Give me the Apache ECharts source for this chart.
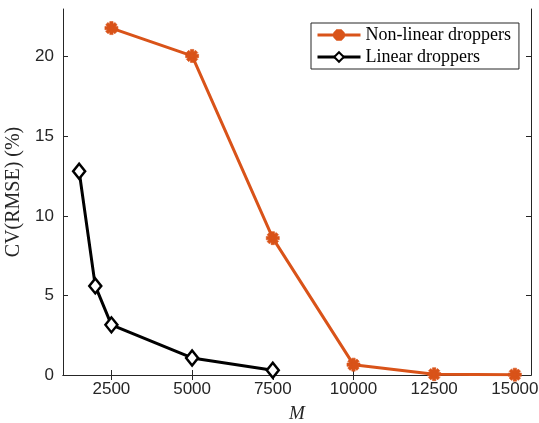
<!DOCTYPE html>
<html>
<head>
<meta charset="utf-8">
<script src="https://cdn.jsdelivr.net/npm/echarts@6/dist/echarts.min.js"></script>
<style>
  html, body { margin: 0; padding: 0; background: #fff; }
  #chart { width: 539px; height: 423px; }
</style>
</head>
<body>
<div id="chart"></div>
<script>
// data
var nonLinearM = [2500, 5000, 7500, 10000, 12500, 15000];
var nonLinearCV = [21.8, 20.05, 8.6, 0.65, 0.05, 0.02];
var linearM = [1500, 2000, 2500, 5000, 7500];
var linearCV = [12.8, 5.6, 3.15, 1.07, 0.3];
var xTicks = [2500, 5000, 7500, 10000, 12500, 15000];
var yTicks = [0, 5, 10, 15, 20];

var axisColor = '#262626';
var orange = '#D95319';

// asterisk marker, built from four bars
var asterisk = 'path://M-1.3,-5L1.3,-5L1.3,5L-1.3,5Z' +
  'M-5,-1.3L5,-1.3L5,1.3L-5,1.3Z' +
  'M-2.6,-4.4L4.4,2.6L2.6,4.4L-4.4,-2.6Z' +
  'M2.6,-4.4L4.4,-2.6L-2.6,4.4L-4.4,2.6Z';

function pairs(xs, ys) {
  return xs.map(function (x, i) { return [x, ys[i]]; });
}

var chart = echarts.init(document.getElementById('chart'));

var tickFont = {
  fontFamily: 'Liberation Sans', fontSize: 17, color: axisColor,
  formatter: function (v) { return String(v); }
};

var option = {
  animation: false,
  grid: {left: 63, right: 8, top: 9, bottom: 48, containLabel: false, outerBoundsMode: 'none'},
  legend: {
    orient: 'vertical',
    left: 311,
    top: 23,
    padding: [3, 8, 3, 5],
    itemWidth: 43,
    itemHeight: 12,
    itemGap: 4,
    backgroundColor: '#fff',
    borderColor: axisColor,
    borderWidth: 1,
    lineStyle: {width: 3},
    textStyle: {fontFamily: 'Liberation Serif', fontSize: 18, color: '#000', lineHeight: 18},
    data: ['Non-linear droppers', 'Linear droppers']
  },
  xAxis: [
    {
      type: 'value', min: 1000, max: 15500,
      name: 'M', nameLocation: 'middle', nameGap: 29,
      nameTextStyle: {fontFamily: 'Liberation Serif', fontStyle: 'italic', fontSize: 19, color: axisColor},
      axisLine: {lineStyle: {color: axisColor}},
      axisTick: {inside: true, length: 5, customValues: xTicks, lineStyle: {color: axisColor}},
      axisLabel: Object.assign({margin: 6, customValues: xTicks}, tickFont),
      splitLine: {show: false}
    },
    {
      type: 'value', position: 'top', min: 1000, max: 15500,
      axisLine: {lineStyle: {color: axisColor}},
      axisTick: {inside: true, length: 5, customValues: xTicks, lineStyle: {color: axisColor}},
      axisLabel: {show: false},
      splitLine: {show: false}
    }
  ],
  yAxis: [
    {
      type: 'value', min: 0, max: 23,
      name: 'CV(RMSE) (%)', nameLocation: 'middle', nameGap: 31,
      nameTextStyle: {fontFamily: 'Liberation Serif', fontSize: 20, color: axisColor},
      axisLine: {show: true, lineStyle: {color: axisColor}},
      axisTick: {show: true, inside: true, length: 5, customValues: yTicks, lineStyle: {color: axisColor}},
      axisLabel: Object.assign({margin: 9, customValues: yTicks}, tickFont),
      splitLine: {show: false}
    },
    {
      type: 'value', position: 'right', min: 0, max: 23,
      axisLine: {show: true, lineStyle: {color: axisColor}},
      axisTick: {show: true, inside: true, length: 5, customValues: yTicks, lineStyle: {color: axisColor}},
      axisLabel: {show: false},
      splitLine: {show: false}
    }
  ],
  series: [
    {
      name: 'Non-linear droppers',
      type: 'line',
      data: pairs(nonLinearM, nonLinearCV),
      symbol: asterisk,
      symbolSize: 13,
      lineStyle: {color: orange, width: 3},
      itemStyle: {color: orange, borderColor: orange, borderWidth: 0.6}
    },
    {
      name: 'Linear droppers',
      type: 'line',
      data: pairs(linearM, linearCV),
      symbol: 'diamond',
      symbolSize: [12, 15],
      lineStyle: {color: '#000', width: 3},
      itemStyle: {color: '#fff', borderColor: '#000', borderWidth: 2.5}
    }
  ]
};

chart.setOption(option);
</script>
</body>
</html>
